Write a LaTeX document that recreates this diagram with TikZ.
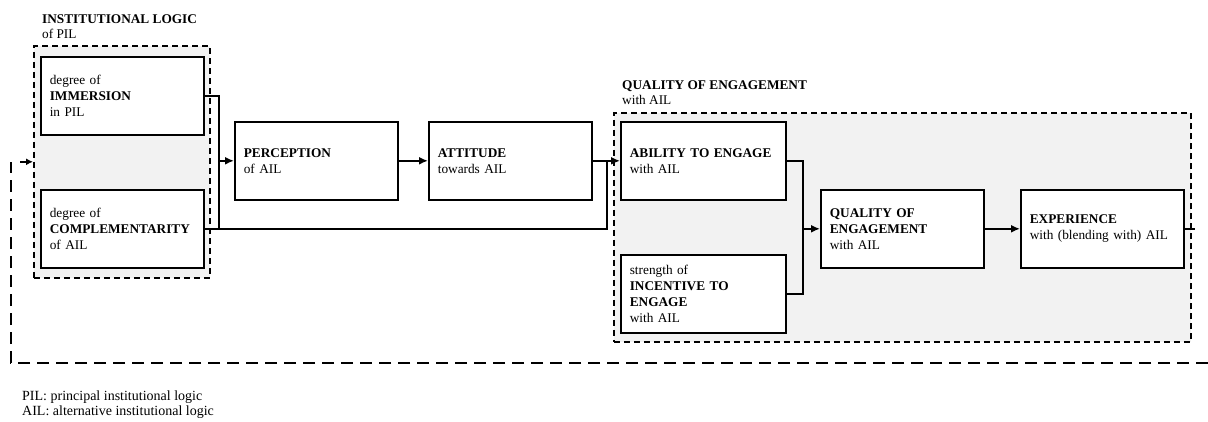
\documentclass[tikz,border=0pt]{standalone}
\usepackage{fontspec}
\setmainfont{Liberation Serif}
\usetikzlibrary{arrows.meta,calc}
\definecolor{panel}{HTML}{F2F2F2}

\tikzset{
  txt/.style={font=\fontsize{13.3}{16}\selectfont},
  group/.style={draw=black, line width=1.6pt, dash pattern=on 6pt off 4pt,
    fill=panel, anchor=north west, inner sep=0pt},
  grouplabel/.style={anchor=north west, align=left, inner sep=0pt,
    font=\fontsize{13.3}{15}\selectfont},
  box/.style={txt, draw=black, line width=1.6pt, fill=white, anchor=north west,
    inner xsep=9pt, inner ysep=0pt, align=left, minimum height=78pt},
  w163/.style={minimum width=163pt, text width=145pt},
  w165/.style={minimum width=165pt, text width=147pt},
  conn/.style={line width=2.5pt, line join=miter},
  arr/.style={conn, -{Latex[length=9pt,width=8pt]}},
  stub/.style={line width=2pt},
  feedback/.style={line width=2.6pt, dash pattern=on 12pt off 7pt},
  smallarr/.style={line width=2pt, -{Latex[length=7pt,width=7pt]}},
}

\begin{document}
\begin{tikzpicture}[x=1pt,y=-1pt]
\useasboundingbox (0,0) rectangle (1208,422);

% dashed panels
\node[group, minimum width=176pt, minimum height=232pt] (g1) at (33,45) {};
\node[group, minimum width=577pt, minimum height=229pt] (g2) at (613,112) {};

\node[grouplabel] (g1lbl) at (42,14) {\textbf{INSTITUTIONAL LOGIC}\\of PIL};
\node[grouplabel] (g2lbl) at (622,80) {\textbf{QUALITY OF ENGAGEMENT}\\with AIL};

% boxes
\node[box, w163] (imm)  at (40,56)   {degree of\\\textbf{IMMERSION}\\in PIL};
\node[box, w163] (comp) at (40,189)  {degree of\\\textbf{COMPLEMENTARITY}\\of AIL};
\node[box, w163] (perc) at (234,121) {\textbf{PERCEPTION}\\of AIL};
\node[box, w163] (att)  at (428,121) {\textbf{ATTITUDE}\\towards AIL};
\node[box, w165] (abil) at (620,121) {\textbf{ABILITY TO ENGAGE}\\with AIL};
\node[box, w165] (inc)  at (620,254) {strength of\\\textbf{INCENTIVE TO}\\\textbf{ENGAGE}\\with AIL};
\node[box, w163] (qoe)  at (820,189) {\textbf{QUALITY OF}\\\textbf{ENGAGEMENT}\\with AIL};
\node[box, w163] (exp)  at (1020,189) {\textbf{EXPERIENCE}\\with (blending with) AIL};

% bus lines
\coordinate (busA) at (219,0);
\coordinate (busB) at (607,0);
\coordinate (busC) at (803,0);

\draw[conn] (imm.east) -| (busA |- comp.east);
\draw[conn] (comp.east) -- (busB |- comp.east) -- (busB |- abil.west);
\draw[arr] (busA |- perc.west) -- (perc.west);
\draw[arr] (perc.east) -- (att.west);
\draw[arr] (att.east) -- (abil.west);

\draw[conn] (abil.east) -| (busC |- inc.east) -- (inc.east);
\draw[arr] (busC |- qoe.west) -- (qoe.west);
\draw[arr] (qoe.east) -- (exp.west);

% feedback loop
\coordinate (stubEnd) at (1195,0);
\draw[stub] (exp.east) -- (stubEnd |- exp.east);
\coordinate (fbR) at (1208,363);
\coordinate (fbL) at (11,363);
\coordinate (fbIn) at (20,0);
\draw[feedback] (fbR) -- (fbL) -- (fbL |- g1.west);
\draw[smallarr] (fbIn |- g1.west) -- (g1.west);

% legend
\node[anchor=north west, align=left, inner sep=0pt,
  font=\fontsize{14}{15}\selectfont] (legend) at (22,390.5)
  {PIL: principal institutional logic\\AIL: alternative institutional logic};
\end{tikzpicture}
\end{document}
